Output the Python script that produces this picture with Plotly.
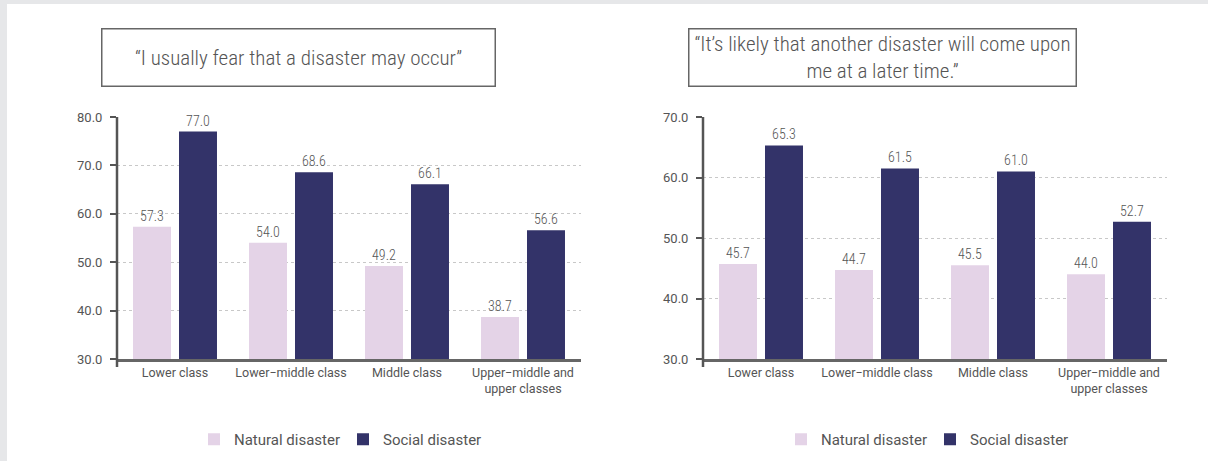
import plotly.graph_objects as go

# ---------------- data ----------------
categories = ["Lower class", "Lower−middle class", "Middle class", "Upper−middle and<br>upper classes"]
fear_natural = [57.3, 54.0, 49.2, 38.7]
fear_social = [77.0, 68.6, 66.1, 56.6]
likely_natural = [45.7, 44.7, 45.5, 44.0]
likely_social = [65.3, 61.5, 61.0, 52.7]
series_names = ["Natural disaster", "Social disaster"]
title_left = "“I usually fear that a disaster may occur”"
title_right = "“It’s likely that another disaster will come upon<br>me at a later time.”"
ticks_left = [30, 40, 50, 60, 70, 80]
ticks_right = [30, 40, 50, 60, 70]

# ---------------- style ----------------
W, H = 1208, 461
C_NAT = "#e4d3e7"
C_SOC = "#333369"
TXT = "#555555"
FONT = "Roboto, 'Noto Sans', sans-serif"
COND = "'Roboto Condensed', 'Liberation Sans Narrow', Roboto, sans-serif"

def px_x(p):
    return p / W

def px_y(p):
    return 1 - p / H

fig = go.Figure()

def add_pair(nat, soc, xa, ya, leg):
    for name, vals, col in [(series_names[0], nat, C_NAT), (series_names[1], soc, C_SOC)]:
        fig.add_trace(go.Bar(
            x=categories, y=vals, name=name, marker=dict(color=col, line=dict(width=0)),
            xaxis=xa, yaxis=ya, legend=leg,
            text=vals, texttemplate="%{y:.1f}", textposition="outside",
            textfont=dict(size=14, color=TXT, family=COND, weight=300), cliponaxis=False,
            hoverinfo="skip",
        ))

add_pair(fear_natural, fear_social, "x", "y", "legend")
add_pair(likely_natural, likely_social, "x2", "y2", "legend2")

ydom = [px_y(359), px_y(117)]
xaxis_common = dict(showline=True, linecolor="#666666", linewidth=3, ticks="",
                    tickfont=dict(size=12.5, color=TXT, family=FONT), showgrid=False,
                    fixedrange=True)
yaxis_common = dict(showline=False, ticks="outside", ticklen=6, tickwidth=2, tickcolor=TXT,
                    tickfont=dict(size=13, color=TXT, family=FONT), tickformat=".1f",
                    showgrid=True, gridcolor="#c8c8c8", gridwidth=1, griddash="dot",
                    zeroline=False, ticklabelstandoff=5, fixedrange=True)

fig.update_layout(
    width=W, height=H,
    margin=dict(l=0, r=0, t=0, b=0, autoexpand=False),
    paper_bgcolor="#e6e7e9",
    plot_bgcolor="rgba(0,0,0,0)",
    barmode="group", bargap=0.207, bargroupgap=0.174,
    xaxis=dict(domain=[px_x(117), px_x(581)], anchor="y", automargin=False, **xaxis_common),
    yaxis=dict(domain=ydom, anchor="x", range=[30, 80], tickvals=ticks_left, automargin=False,
               **yaxis_common),
    xaxis2=dict(domain=[px_x(703), px_x(1167)], anchor="y2", automargin=False, **xaxis_common),
    yaxis2=dict(domain=ydom, anchor="x2", range=[30, 70], tickvals=ticks_right, automargin=False,
                **yaxis_common),
    legend=dict(orientation="h", x=px_x(194), y=px_y(439.5), xanchor="left", yanchor="middle",
                font=dict(size=15, color=TXT, family=FONT), bgcolor="rgba(0,0,0,0)",
                entrywidth=104, entrywidthmode="pixels"),
    legend2=dict(orientation="h", x=px_x(781), y=px_y(439.5), xanchor="left", yanchor="middle",
                 font=dict(size=15, color=TXT, family=FONT), bgcolor="rgba(0,0,0,0)",
                 entrywidth=104, entrywidthmode="pixels"),
    showlegend=True,
)

shapes = [
    dict(type="rect", xref="paper", yref="paper", x0=px_x(7), x1=1.01, y0=-0.01, y1=px_y(4),
         fillcolor="white", line=dict(width=0), layer="below"),
]
for xr, yr in [("x domain", "y domain"), ("x2 domain", "y2 domain")]:
    shapes.append(dict(type="line", xref=xr, yref=yr, x0=0, x1=0, y0=1, y1=-0.033,
                       line=dict(color=TXT, width=2.5)))
fig.update_layout(shapes=shapes)

for text, x0, x1 in [(title_left, 101, 496), (title_right, 688, 1077)]:
    fig.add_annotation(
        xref="paper", yref="paper", x=px_x((x0 + x1) / 2), y=px_y(57.5),
        xanchor="center", yanchor="middle", showarrow=False, text=text,
        font=dict(size=21, color=TXT, family=COND, weight=300),
        width=x1 - x0 - 3, height=56, borderpad=0,
        bordercolor="#666666", borderwidth=1.5, bgcolor="white",
    )

fig.write_html("out.html")
